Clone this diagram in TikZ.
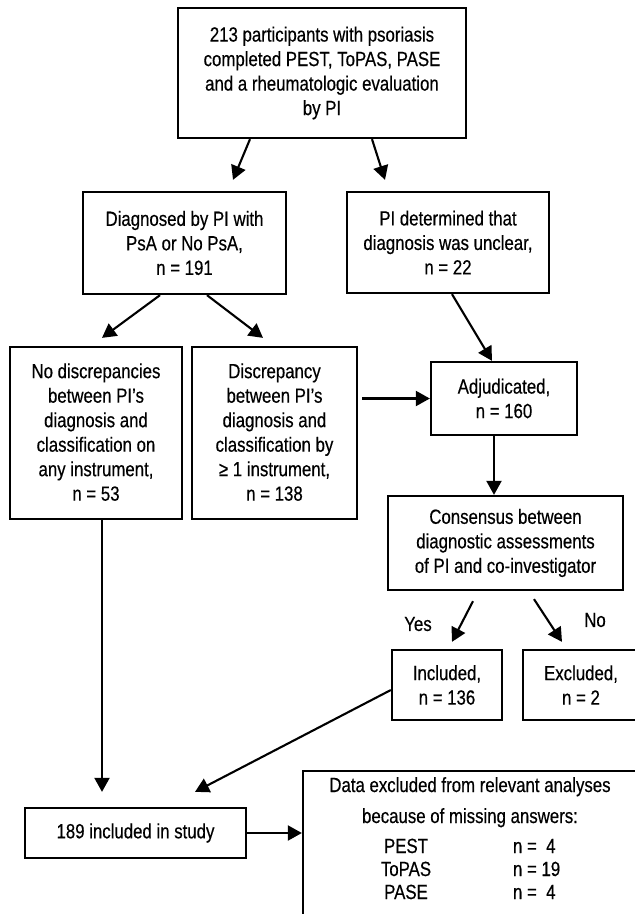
\documentclass[tikz,border=0pt]{standalone}
\usepackage{fontspec}
\setmainfont{Liberation Sans}[FakeStretch=0.82,FakeBold=0.4]
\usetikzlibrary{arrows.meta,calc}
\begin{document}
\begin{tikzpicture}[x=1pt,y=-1pt,
  box/.style={draw, line width=2.3pt, inner sep=0pt, align=center, font=\fontsize{20.5}{24.5}\selectfont},
  arr/.style={line width=2.1pt, -{Triangle[length=14pt,width=15pt]}},
  lbl/.style={inner sep=0pt, font=\fontsize{20.5}{24.5}\selectfont}]
\useasboundingbox (0,0) rectangle (635,914);
\clip (0,0) rectangle (635,914);
\fill[white] (0,0) rectangle (635,914);

\node[box, minimum width=288pt, minimum height=130pt] (top) at (322,73)
  {213 participants with psoriasis\\completed PEST, ToPAS, PASE\\and a rheumatologic evaluation\\by PI};
\node[box, minimum width=203pt, minimum height=102pt] (diag) at (184.5,243)
  {Diagnosed by PI with\\PsA or No PsA,\\n = 191};
\node[box, minimum width=202pt, minimum height=101pt] (unclear) at (448,242.5)
  {PI determined that\\diagnosis was unclear,\\n = 22};
\node[box, minimum width=172pt, minimum height=172pt, text depth=2pt] (nodisc) at (96,433)
  {No discrepancies\\between PI’s\\diagnosis and\\classification on\\any instrument,\\n = 53};
\node[box, minimum width=165pt, minimum height=172pt, text depth=2pt] (disc) at (274.5,433)
  {Discrepancy\\between PI’s\\diagnosis and\\classification by\\≥ 1 instrument,\\n = 138};
\node[box, minimum width=146pt, minimum height=73pt] (adj) at (504,398.5)
  {Adjudicated,\\n = 160};
\node[box, minimum width=235pt, minimum height=94pt] (cons) at (505.5,543)
  {Consensus between\\diagnostic assessments\\of PI and co-investigator};
\node[box, minimum width=110pt, minimum height=70pt] (incl) at (447,685)
  {Included,\\n = 136};
\node[box, minimum width=116pt, minimum height=70pt] (excl) at (581,685)
  {Excluded,\\n = 2};
\node[box, minimum width=221pt, minimum height=50pt] (inc189) at (135.5,833)
  {189 included in study};
\node[box, minimum width=334pt, inner ysep=6pt, text depth=80pt, anchor=north] (data) at (470,770)
  {Data excluded from relevant analyses\\[6.5pt]because of missing answers:\\[5.5pt]
   \makebox[0pt]{\makebox[214pt]{PEST}\makebox[128pt][l]{n = \ 4}}\\[-1.5pt]
   \makebox[0pt]{\makebox[214pt]{ToPAS}\makebox[128pt][l]{n = 19}}\\[-1.5pt]
   \makebox[0pt]{\makebox[214pt]{PASE}\makebox[128pt][l]{n = \ 4}}};

\node[lbl] (yes) at (418,624) {Yes};
\node[lbl] (no) at (595,620) {No};

\draw[arr] ([xshift=-72pt]top.south) -- ([xshift=48.5pt,yshift=11pt]diag.north);
\draw[arr] ([xshift=50pt]top.south) -- ([xshift=-63pt,yshift=11pt]unclear.north);
\draw[arr] ([xshift=-24.5pt]diag.south) -- ([xshift=6pt,yshift=8pt]nodisc.north);
\draw[arr] ([xshift=22.5pt]diag.south) -- ([xshift=-11.5pt,yshift=8pt]disc.north);
\draw[arr] ([xshift=4pt]unclear.south) -- ([xshift=-12pt]adj.north);
\draw[arr] ([xshift=4pt]disc.east |- adj.west) -- (adj.west);
\draw[arr] ([xshift=-10pt]adj.south) -- ([xshift=-11.5pt]cons.north);
\draw[arr] ([xshift=-32.5pt,yshift=-10pt]cons.south) -- ([xshift=5pt,yshift=7pt]incl.north);
\draw[arr] ([xshift=28.5pt,yshift=-8pt]cons.south) -- ([xshift=-19pt,yshift=7pt]excl.north);
\draw[arr] ([xshift=6pt]nodisc.south) -- ([xshift=-33.5pt,yshift=15pt]inc189.north);
\draw[arr] ([yshift=-5pt]incl.west) -- ([xshift=59.5pt,yshift=15pt]inc189.north);
\draw[arr] (inc189.east) -- (inc189.east -| data.west);
\end{tikzpicture}
\end{document}
